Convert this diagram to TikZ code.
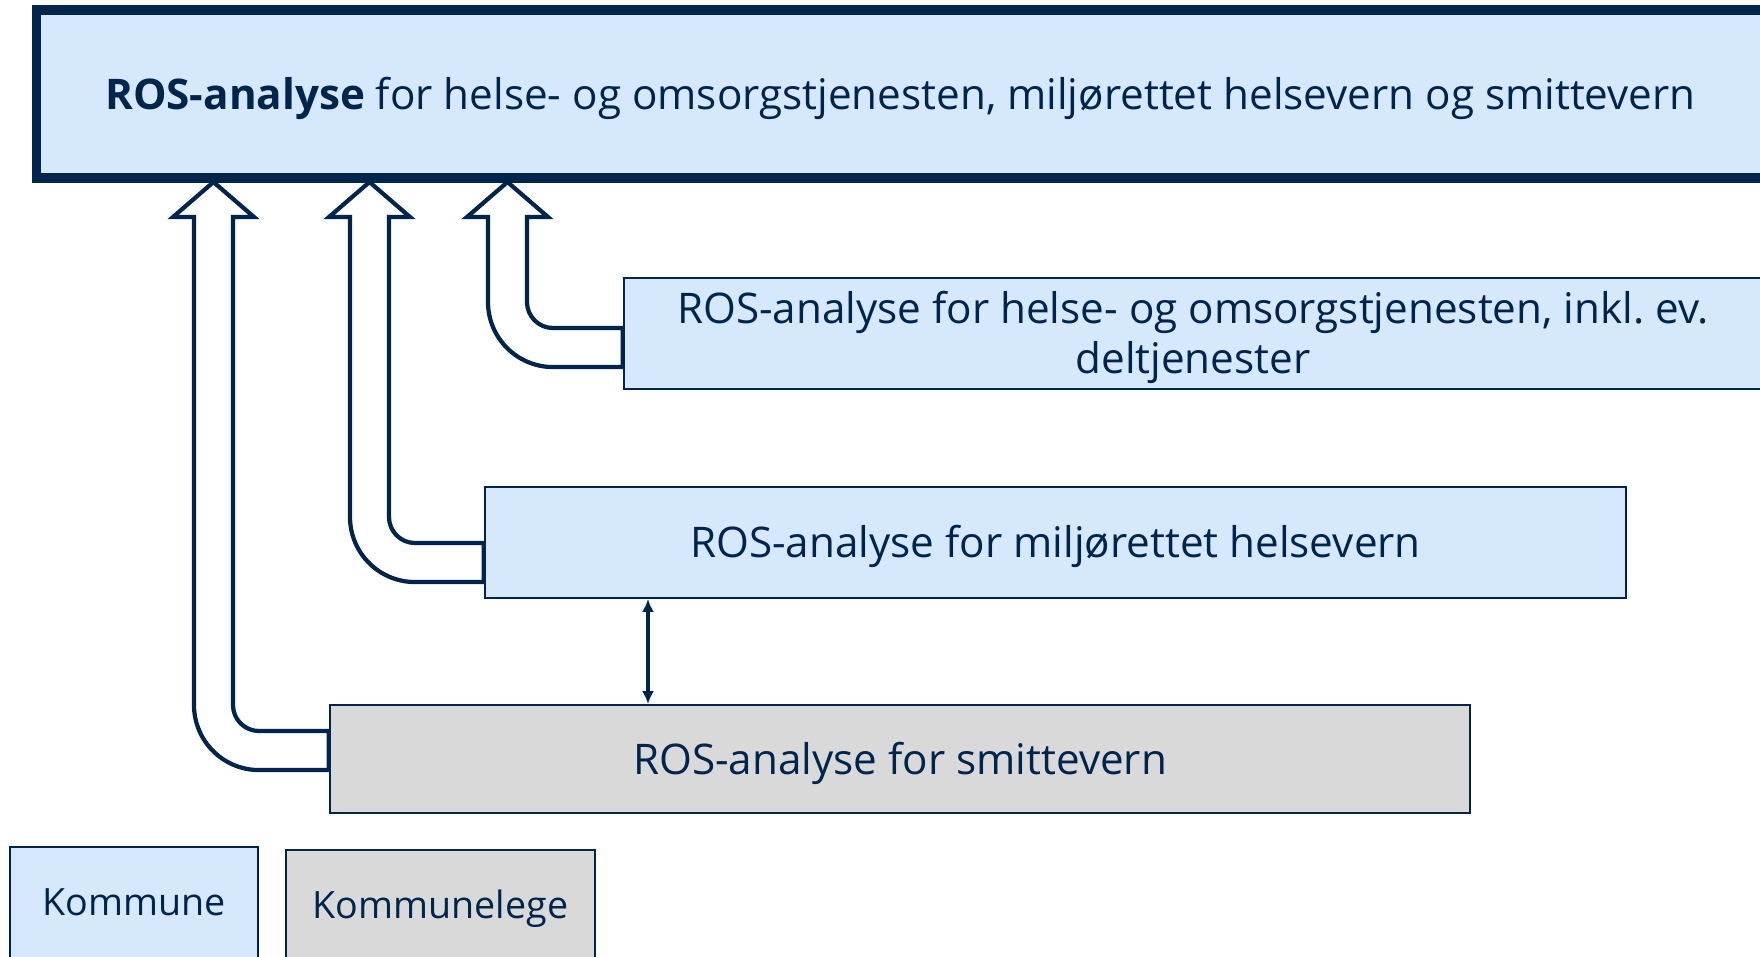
\documentclass[tikz,border=0pt]{standalone}
\usepackage{fontspec}
\setmainfont{Open Sans}
\usetikzlibrary{arrows.meta}
\frenchspacing

\definecolor{navy}{HTML}{00254D}
\definecolor{kblue}{HTML}{D5E8FC}
\definecolor{kgray}{HTML}{D9D9D9}

\tikzset{
  rosbox/.style={draw=navy, line width=0.5pt, fill=kblue, text=navy, align=center, inner sep=0pt,
    text height=8.6pt, text depth=0pt},
  legebox/.style={rosbox, fill=kgray},
  keybox/.style={font=\fontsize{10.7pt}{13pt}\selectfont, text height=8.1pt, text depth=1pt,
    minimum height=1.12cm},
  hollowarrow/.style={draw=navy, line width=1.2pt, fill=white, line join=miter},
}

\newcommand{\hollowup}[3]{%
  \draw[hollowarrow] (#3.west |- 0,#2)
    -- ({#1+39+26},#2) arc[start angle=270, end angle=180, radius=2.6mm]
    -- ({#1+39},217) -- ({#1+60},217) -- ({#1+19.5},182) -- ({#1-21},217) -- (#1,217)
    -- (#1,{#2+39-65}) arc[start angle=180, end angle=270, radius=6.5mm]
    -- (#3.west |- 0,{#2+39}) -- cycle;}

\begin{document}
\begin{tikzpicture}[x=0.01cm, y=-0.01cm, every node/.style={font=\fontsize{12pt}{14.4pt}\selectfont}]

\useasboundingbox (0,0) rectangle (1760,956);

\node[rosbox, line width=2.7pt, minimum width=17.27cm, minimum height=1.675cm] (ros) at (900.5,94)
  {\textbf{ROS-analyse} for helse- og omsorgstjenesten, miljørettet helsevern og smittevern};

\node[rosbox, minimum width=11.38cm, minimum height=1.11cm, text height=23pt] (omsorg) at (1193,333.5)
  {ROS-analyse for helse- og omsorgstjenesten, inkl. ev.\\ deltjenester};
\node[rosbox, minimum width=11.41cm, minimum height=1.11cm] (miljo) at (1055.5,542.5)
  {ROS-analyse for miljørettet helsevern};
\node[legebox, minimum width=11.40cm, minimum height=1.08cm] (smitte) at (900,759)
  {ROS-analyse for smittevern};

\node[rosbox, keybox, minimum width=2.48cm] (kommune) at (134,903) {Kommune};
\node[legebox, keybox, minimum width=3.09cm] (lege) at (440.5,906) {Kommunelege};

\foreach \x/\y/\src in {194/731/smitte, 350/543/miljo, 488/328/omsorg}
    \hollowup{\x}{\y}{\src};

\draw[navy, line width=1.1pt, {Latex[length=1.3mm,width=1.2mm]}-{Latex[length=1.3mm,width=1.2mm]}]
  (miljo.south -| 648,0) -- (smitte.north -| 648,0);

\end{tikzpicture}
\end{document}
